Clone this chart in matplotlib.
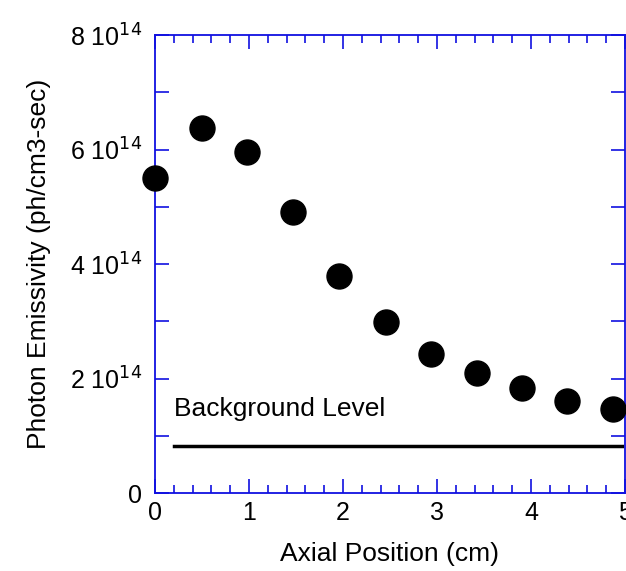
import matplotlib.pyplot as plt
from matplotlib.ticker import MultipleLocator, FixedLocator

plt.rcParams['font.family'] = ['Liberation Sans', 'DejaVu Sans']

# axial position (cm) and photon emissivity (units of 1e14 ph/cm3-sec)
position = [0.0, 0.5, 0.98, 1.47, 1.96, 2.46, 2.94, 3.43, 3.90, 4.38, 4.87]
emissivity = [5.50, 6.38, 5.96, 4.91, 3.79, 2.99, 2.43, 2.10, 1.83, 1.61, 1.47]

background_x = [0.2, 4.97]
background_level = 0.82

y_ticks = [0, 2, 4, 6, 8]
y_labels = ['0', '2 10$^{14}$', '4 10$^{14}$', '6 10$^{14}$', '8 10$^{14}$']

fig = plt.figure(figsize=(6.26, 5.71), dpi=100)
ax = fig.add_axes([0.2476, 0.1366, 0.7508, 0.8021])

ax.plot(position, emissivity, 'o', color='black', markersize=18, clip_on=False, zorder=3)
ax.plot(background_x, [background_level] * 2, color='black', linewidth=2.5)
ax.text(0.2, 1.35, 'Background Level', fontsize=19)

ax.set_xlim(0, 5)
ax.set_ylim(0, 8)
ax.xaxis.set_major_locator(MultipleLocator(1))
ax.xaxis.set_minor_locator(MultipleLocator(0.2))
ax.yaxis.set_major_locator(FixedLocator(y_ticks))
ax.set_yticklabels(y_labels)
ax.yaxis.set_minor_locator(MultipleLocator(1))

for s in ax.spines.values():
    s.set_color('#1010e0')
    s.set_linewidth(1.3)
ax.tick_params(which='both', direction='in', top=True, right=True,
               color='#1010e0', width=1.2, labelsize=18)
ax.tick_params(which='major', length=10)
ax.tick_params(axis='x', which='major', pad=6)
ax.tick_params(axis='y', which='major', pad=9)
ax.tick_params(which='minor', length=6)
ax.tick_params(axis='y', which='minor', length=10)

ax.set_xlabel('Axial Position (cm)', fontsize=19, labelpad=12)
ax.set_ylabel('Photon Emissivity (ph/cm3-sec)', fontsize=19, labelpad=14)

fig.savefig('out.png', dpi=100)
